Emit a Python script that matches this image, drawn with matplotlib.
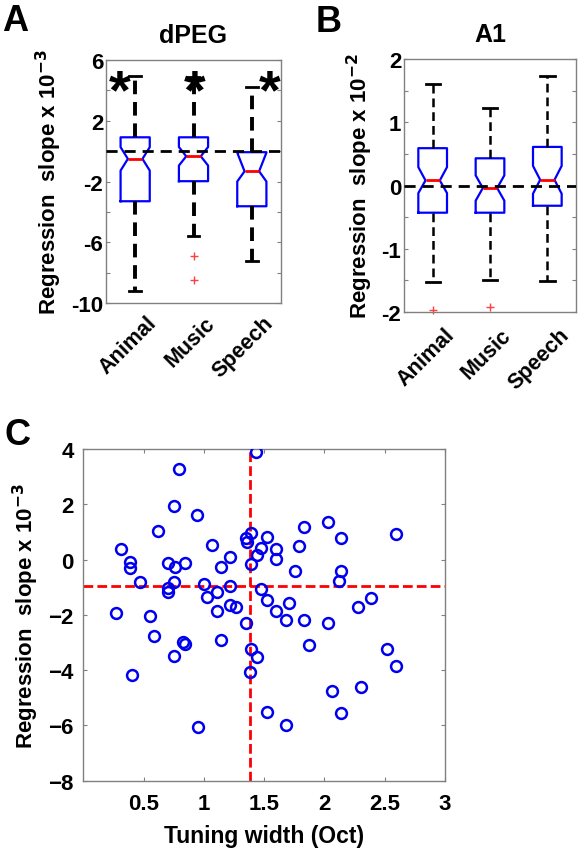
import numpy as np
import matplotlib
matplotlib.use("Agg")
import matplotlib.pyplot as plt
import matplotlib.transforms as mtransforms

plt.rcParams["font.family"] = ["Liberation Sans", "DejaVu Sans"]
plt.rcParams["font.weight"] = "bold"
plt.rcParams["axes.labelweight"] = "bold"
plt.rcParams["axes.titleweight"] = "bold"
plt.rcParams["mathtext.default"] = "bf"

# ── data ────────────────────────────────────────────
categories = ["Animal", "Music", "Speech"]

# Panel A (dPEG, x 10^-3)
a_med    = [-0.51, -0.34, -1.33]
a_q1     = [-3.30, -1.98, -3.63]
a_q3     = [0.91, 0.91, -0.07]
a_cilo   = [-1.28, -0.95, -2.00]
a_cihi   = [0.26, 0.27, -0.10]
a_whislo = [-9.22, -5.60, -7.24]
a_whishi = [4.93, 4.85, 4.20]
a_fliers = [[], [-6.9, -8.47], []]

# Panel B (A1, x 10^-2)
b_med    = [0.08, -0.04, 0.09]
b_q1     = [-0.43, -0.43, -0.32]
b_q3     = [0.59, 0.43, 0.61]
b_cilo   = [-0.12, -0.24, -0.13]
b_cihi   = [0.29, 0.16, 0.31]
b_whislo = [-1.52, -1.49, -1.51]
b_whishi = [1.60, 1.23, 1.73]
b_fliers = [[-1.97], [-1.92], []]

# Panel C scatter
tuning_width = [0.27, 0.31, 0.39, 0.39, 0.40, 0.47, 0.55, 0.59, 0.62, 0.70,
                0.70, 0.70, 0.75, 0.75, 0.75, 0.76, 0.79, 0.83, 0.84, 0.84,
                0.94, 0.95, 1.00, 1.03, 1.07, 1.11, 1.11, 1.14, 1.14, 1.22,
                1.22, 1.22, 1.27, 1.35, 1.355, 1.39, 1.35, 1.39, 1.39, 1.38,
                1.43, 1.44, 1.44, 1.47, 1.47, 1.52, 1.52, 1.52, 1.60, 1.60,
                1.60, 1.68, 1.68, 1.71, 1.76, 1.79, 1.83, 1.83, 1.87, 2.03,
                2.03, 2.06, 2.12, 2.14, 2.14, 2.14, 2.28, 2.30, 2.39, 2.52,
                2.59, 2.59]
reg_slope = [-1.93, 0.37, -0.10, -0.32, -4.17, -0.82, -2.04, -2.75, 1.03, -0.14,
             -1.02, -1.17, 1.92, -0.82, -3.48, -0.27, 3.29, -2.97, -3.05, -0.13,
             1.63, -6.07, -0.87, -1.37, 0.54, -1.16, -1.85, -0.26, -2.91, 0.10,
             -0.97, -1.63, -1.70, 0.78, 0.64, 0.95, -2.29, -0.15, -3.23, -4.05,
             3.89, 0.18, -3.54, 0.42, -1.07, 0.83, -1.45, -5.51, 0.39, 0.01,
             -1.86, -2.20, -6.00, -1.57, -0.43, 0.48, 1.17, -2.20, -3.08, 1.37,
             -2.30, -4.77, -0.77, 0.79, -0.42, -5.56, -1.72, -4.61, -1.39, -3.24,
             0.93, -3.84]
median_width = 1.382
median_slope = -0.96

W, H = 579, 853
fig = plt.figure(figsize=(W / 100, H / 100), dpi=100)


def px_axes(left, top, right, bottom):
    return fig.add_axes([left / W, 1 - bottom / H, (right - left) / W, (bottom - top) / H])


def style_axes(ax, pad=2):
    for s in ax.spines.values():
        s.set_color("#808080")
        s.set_linewidth(1.0)
    ax.tick_params(direction="in", length=3, color="#808080", labelsize=16,
                   top=True, right=True, width=0.8, pad=pad)


def draw_boxes(ax, med, q1, q3, cilo, cihi, wlo, whi, fliers, wlw, dash, capw, dx, dy):
    stats = []
    for i in range(len(categories)):
        stats.append(dict(med=med[i], q1=q1[i], q3=q3[i], cilo=cilo[i], cihi=cihi[i],
                          whislo=wlo[i], whishi=whi[i], fliers=fliers[i]))
    ax.bxp(stats, positions=[1, 2, 3], widths=0.5, capwidths=capw, shownotches=True,
           boxprops=dict(color="#0000ff", lw=1.6),
           medianprops=dict(color="#ff0000", lw=2),
           whiskerprops=dict(color="k", lw=wlw, linestyle=(0, dash)),
           capprops=dict(color="k", lw=2),
           flierprops=dict(marker="+", markeredgecolor="#ff4040", markersize=6, mew=1,
                           clip_on=False))
    ax.set_xlim(0.5, 3.5)
    ax.set_xticks([1, 2, 3])
    ax.set_xticklabels(categories, rotation=45, ha="right", va="top", rotation_mode="anchor",
                       fontsize=15.5, fontweight="bold")
    ax.tick_params(axis="x", length=0, pad=0)
    off = mtransforms.ScaledTranslation(dx / 100, -dy / 100, fig.dpi_scale_trans)
    for lab in ax.get_xticklabels():
        lab.set_transform(lab.get_transform() + off)


# ── Panel A ──
axA = px_axes(106, 61, 281, 304)
style_axes(axA)
axA.axhline(0, color="k", lw=2, linestyle=(0, (4, 2.5)), zorder=3)
draw_boxes(axA, a_med, a_q1, a_q3, a_cilo, a_cihi, a_whislo, a_whishi, a_fliers,
           2.8, (3.5, 2), 0.2, 11, 9)
axA.set_ylim(-10, 6)
axA.set_yticks(np.arange(-10, 7, 2))
axA.set_yticklabels(["-10", "", "-6", "", "-2", "", "2", "", "6"])
axA.set_ylabel("Regression  slope x 10$^{-3}$", fontsize=16, labelpad=5)
axA.set_title("dPEG", fontsize=18, pad=13)
for xs in [0.74, 2.02, 3.31]:
    axA.text(xs, 3.8, "*", fontsize=40, fontweight="bold", ha="center", va="center")

# ── Panel B ──
axB = px_axes(404, 60, 576, 313)
style_axes(axB)
axB.axhline(0, color="k", lw=2, linestyle=(0, (4, 2.5)), zorder=3)
draw_boxes(axB, b_med, b_q1, b_q3, b_cilo, b_cihi, b_whislo, b_whishi, b_fliers,
           1.8, (3.5, 2), 0.25, 11, 12)
axB.set_ylim(-2, 2)
axB.set_yticks(np.arange(-2, 2.01, 0.5))
axB.set_yticklabels(["-2", "", "-1", "", "0", "", "1", "", "2"])
axB.set_ylabel("Regression  slope x 10$^{-2}$", fontsize=16, labelpad=5)
axB.set_title("A1", fontsize=18, pad=13)

# ── Panel C ──
axC = px_axes(83.3, 450, 445, 781.7)
style_axes(axC, pad=7)
axC.plot(tuning_width, reg_slope, "o", mfc="none", mec="#0000ee", ms=7.8, mew=1.8, zorder=3)
axC.axvline(median_width, color="#ff0000", lw=2, linestyle=(0, (3.5, 1.5)), zorder=2)
axC.axhline(median_slope, color="#ff0000", lw=2, linestyle=(0, (3.5, 1.5)), zorder=2)
axC.set_xlim(0, 3)
axC.set_ylim(-8, 4)
axC.set_xticks([0.5, 1, 1.5, 2, 2.5, 3])
axC.set_xticklabels(["0.5", "1", "1.5", "2", "2.5", "3"])
axC.set_yticks(np.arange(-8, 5, 2))
axC.tick_params(axis="x", pad=9)
axC.set_xlabel("Tuning width (Oct)", fontsize=16.5, labelpad=7)
axC.set_ylabel("Regression  slope x 10$^{-3}$", fontsize=16, labelpad=5)

# panel letters
for lbl, x, y in [("A", 2, 31), ("B", 316, 32), ("C", 4, 445)]:
    fig.text(x / W, 1 - y / H, lbl, fontsize=26, fontweight="bold", ha="left", va="baseline")

fig.savefig("out.png", dpi=100)
